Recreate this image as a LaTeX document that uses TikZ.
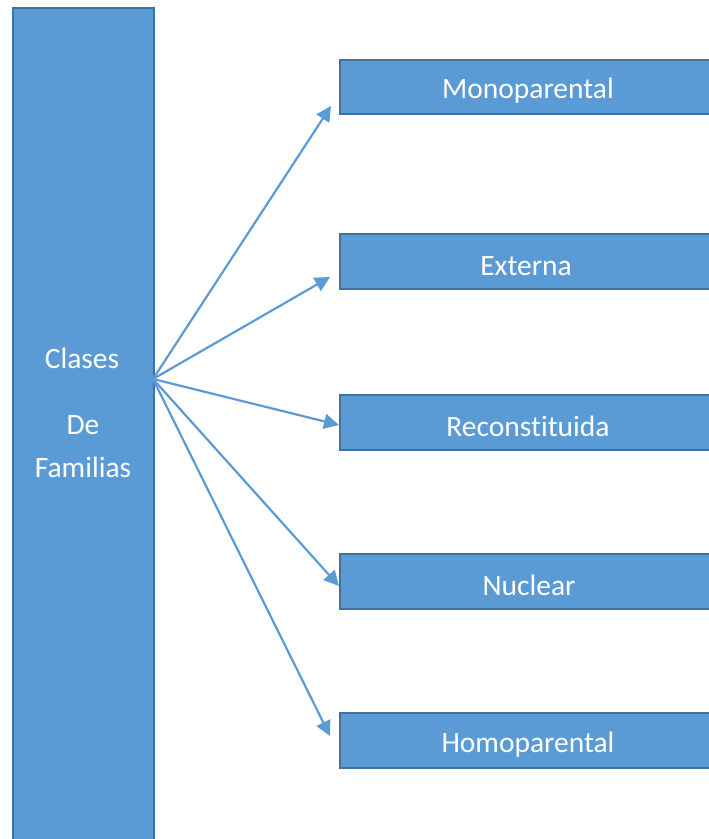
\documentclass[tikz,border=0pt]{standalone}
\usepackage{fontspec}
\setmainfont{Carlito}[Ligatures={NoCommon}]
\usetikzlibrary{arrows.meta}
\definecolor{fillblue}{HTML}{5B9BD5}
\definecolor{edgeblue}{HTML}{41719C}
\tikzset{
  boxstyle/.style={draw=edgeblue,line width=2pt,fill=fillblue,anchor=north west,inner sep=0pt},
  lbl/.style={text=white,font=\fontsize{29.5}{35}\selectfont,inner sep=0pt},
  conn/.style={draw=fillblue,line width=2.2pt,-{Triangle[length=15pt,width=15pt]}},
}
\begin{document}
\begin{tikzpicture}[x=1pt,y=-1pt]
\useasboundingbox (0,0) rectangle (709,839);
\clip (0,0) rectangle (709,839);
% left tall box
\node[boxstyle,minimum width=141pt,minimum height=850pt] (left) at (12,7) {};
\node[lbl] (t1) at (82,358) {Clases};
\node[lbl] (t2) at (83,425) {De};
\node[lbl] (t3) at (83,467) {Familias};
% right boxes
\node[boxstyle,minimum width=380pt,minimum height=54pt] (b1) at (339,59) {};
\node[boxstyle,minimum width=380pt,minimum height=55pt] (b2) at (339,233) {};
\node[boxstyle,minimum width=380pt,minimum height=55pt] (b3) at (339,394) {};
\node[boxstyle,minimum width=380pt,minimum height=55pt] (b4) at (339,553) {};
\node[boxstyle,minimum width=380pt,minimum height=55pt] (b5) at (339,712) {};
\node[lbl] (l1) at (528,91) {Monoparental};
\node[lbl] (l2) at (526,266) {Externa};
\node[lbl] (l3) at (528,426) {Reconstituida};
\node[lbl] (l4) at (529,585) {Nuclear};
\node[lbl] (l5) at (528,745) {Homoparental};
% connectors
\coordinate (src) at (153,379);
\coordinate (e1) at (331,106);
\coordinate (e2) at (330,277);
\coordinate (e3) at (339,425);
\coordinate (e4) at (339,586);
\coordinate (e5) at (330,736);
\draw[conn] (src) -- (e1);
\draw[conn] (src) -- (e2);
\draw[conn] (src) -- (e3);
\draw[conn] (src) -- (e4);
\draw[conn] (src) -- (e5);
\end{tikzpicture}
\end{document}
